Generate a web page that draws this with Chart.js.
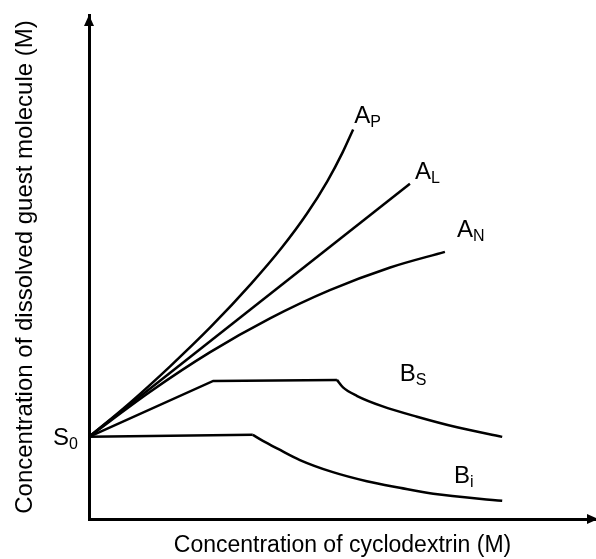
<!DOCTYPE html>
<html>
<head>
<meta charset="utf-8">
<script src="https://cdn.jsdelivr.net/npm/chart.js@4.4.1/dist/chart.umd.min.js"></script>
<style>
  html, body { margin: 0; padding: 0; background: #fff; }
  canvas { display: block; }
</style>
</head>
<body>
<canvas id="phaseChart" width="596" height="559"></canvas>
<script>
// phase solubility diagram (Higuchi-Connors types), arbitrary units 0-100
const s0 = 16.3;
const apCurve = [[0, s0], [8, 23.0], [16, 30.3], [24, 38.1], [32, 46.7], [38, 53.8], [43, 60.6], [47, 67.0], [50, 72.7], [52.1, 77.3]];
const alLine  = [[0, s0], [63.3, 66.5]];
const anCurve = [[0, s0], [12.0, 25.2], [23.9, 33.1], [35.7, 39.8], [47.5, 45.4], [59.4, 49.9], [70.2, 53.0]];
const bsRise  = [[0, s0], [24.5, 27.4], [48.9, 27.6]];
const bsFall  = [[48.9, 27.6], [50.1, 26.1], [52.9, 24.4], [57.8, 22.4], [64.7, 20.3], [72.6, 18.2], [81.5, 16.3]];
const biFlat  = [[0, s0], [32.3, 16.7]];
const biFall  = [[32.3, 16.7], [34.3, 15.5], [37.3, 13.9], [41.6, 11.7], [48.1, 9.3], [54.8, 7.5], [61.3, 6.2], [67.9, 5.0], [81.5, 3.6]];

// curve names, anchored in data units (baseline-left of the big letter)
const curveLabels = [
  { main: 'A', sub: 'P', x: 52.3, y: 78.6 },
  { main: 'A', sub: 'L', x: 64.3, y: 67.5 },
  { main: 'A', sub: 'N', x: 72.6, y: 56.0 },
  { main: 'B', sub: 'S', x: 61.3, y: 27.4 },
  { main: 'B', sub: 'i', x: 72.0, y: 7.1 },
  { main: 'S', sub: '0', x: -7.1, y: 14.7 }
];

const FONT = '"Liberation Sans", Arial, sans-serif';

function toPts(arr) {
  return arr.map(p => ({ x: p[0], y: p[1] }));
}
function curve(arr) {
  return { data: toPts(arr), borderColor: '#000', borderWidth: 2.5, pointRadius: 0, fill: false, cubicInterpolationMode: 'monotone' };
}
function straight(arr) {
  return { data: toPts(arr), borderColor: '#000', borderWidth: 2.5, pointRadius: 0, fill: false, tension: 0 };
}

const extras = {
  id: 'extras',
  afterDraw(chart) {
    const ctx = chart.ctx;
    const area = chart.chartArea;
    const xs = chart.scales.x, ys = chart.scales.y;
    ctx.save();
    ctx.fillStyle = '#000';
    // arrow heads
    ctx.beginPath();
    ctx.moveTo(area.left, area.top);
    ctx.lineTo(area.left - 5, area.top + 11);
    ctx.lineTo(area.left + 5, area.top + 11);
    ctx.closePath();
    ctx.fill();
    ctx.beginPath();
    ctx.moveTo(area.right + 2, area.bottom);
    ctx.lineTo(area.right - 9, area.bottom - 5);
    ctx.lineTo(area.right - 9, area.bottom + 5);
    ctx.closePath();
    ctx.fill();
    // curve labels with subscripts
    ctx.textBaseline = 'alphabetic';
    ctx.textAlign = 'left';
    curveLabels.forEach(l => {
      const px = xs.getPixelForValue(l.x);
      const py = ys.getPixelForValue(l.y);
      ctx.font = '24px ' + FONT;
      ctx.fillText(l.main, px, py);
      const w = ctx.measureText(l.main).width;
      ctx.font = '16px ' + FONT;
      ctx.fillText(l.sub, px + w, py + 4);
    });
    ctx.restore();
  }
};

new Chart(document.getElementById('phaseChart'), {
  type: 'line',
  data: {
    datasets: [curve(apCurve), straight(alLine), curve(anCurve), straight(bsRise), curve(bsFall), straight(biFlat), curve(biFall)]
  },
  options: {
    responsive: false,
    animation: false,
    clip: false,
    layout: { padding: { top: 15, left: 0, right: 0, bottom: 0 } },
    plugins: { legend: { display: false }, tooltip: { enabled: false } },
    scales: {
      x: {
        type: 'linear', min: 0, max: 100,
        grid: { display: false },
        border: { display: true, color: '#000', width: 3 },
        ticks: { display: false },
        title: { display: true, text: 'Concentration of cyclodextrin (M)', color: '#000', font: { family: FONT, size: 23 }, padding: 0 },
        afterFit(scale) { scale.height = 40; }
      },
      y: {
        type: 'linear', min: 0, max: 100,
        grid: { display: false },
        border: { display: true, color: '#000', width: 3 },
        ticks: { display: false },
        title: { display: true, text: 'Concentration of dissolved guest molecule (M)', color: '#000', font: { family: FONT, size: 24 }, padding: { top: 11, bottom: 0 } },
        afterFit(scale) { scale.width = 89; }
      }
    }
  },
  plugins: [extras]
});
</script>
</body>
</html>
